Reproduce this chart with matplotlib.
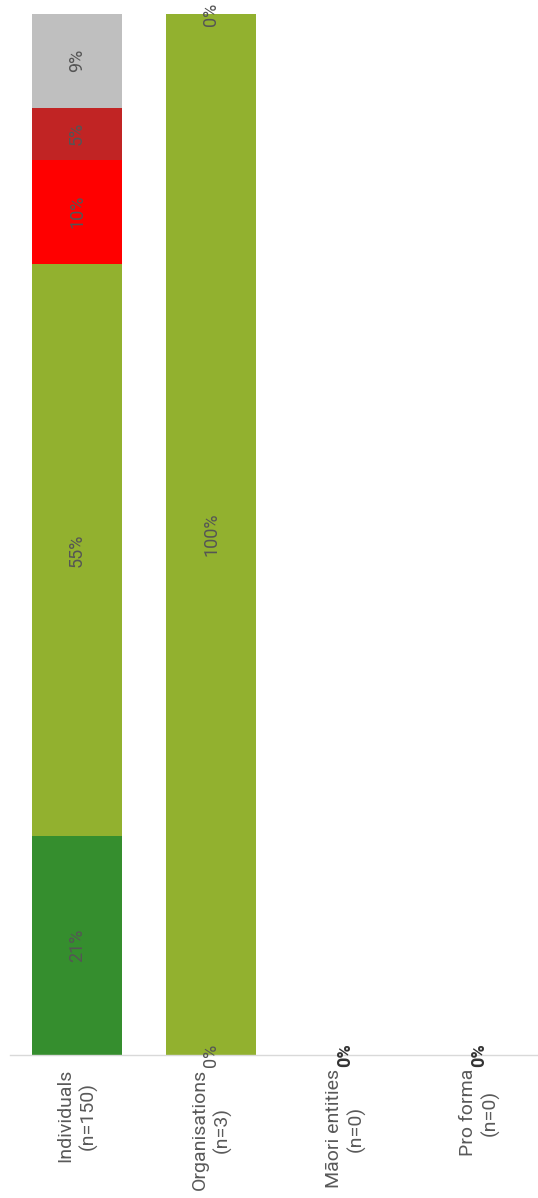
import matplotlib.pyplot as plt

# categories and stacked series (percent)
categories = ['Individuals\n(n=150)', 'Organisations\n(n=3)', 'Māori entities\n(n=0)', 'Pro forma\n(n=0)']
dark_green = [21, 0, 0, 0]
light_green = [55, 100, 0, 0]
red = [10, 0, 0, 0]
dark_red = [5, 0, 0, 0]
grey = [9, 0, 0, 0]
totals = [150, 3, 0, 0]

series = [dark_green, light_green, red, dark_red, grey]
colors = ['#358E2E', '#92B12F', '#FF0000', '#C12424', '#BFBFBF']

plt.rcParams['font.family'] = ['Roboto', 'DejaVu Sans']

fig = plt.figure(figsize=(5.38, 11.98), dpi=100)
ax = fig.add_axes([10 / 538, 143 / 1198, 528 / 538, 1041 / 1198])

x = list(range(len(categories)))
bottom = [0] * len(categories)
for i, (vals, col) in enumerate(zip(series, colors)):
    ax.bar(x, vals, width=0.67, bottom=bottom, color=col, linewidth=0, zorder=2)
    for j in range(len(categories)):
        if totals[j] == 0:
            continue
        # zero segments only labelled at the first and last series
        if vals[j] == 0 and i not in (0, len(series) - 1):
            continue
        ax.text(x[j], bottom[j] + vals[j] / 2, f'{vals[j]}%', rotation=90, ha='center', va='center',
                fontsize=13, color='#555555', fontweight='normal', clip_on=False, zorder=3)
    bottom = [b + v for b, v in zip(bottom, vals)]

# total labels for empty groups
for j in range(len(categories)):
    if totals[j] == 0:
        ax.text(x[j], 0, '0%', rotation=90, ha='center', va='center', fontsize=13,
                color='#333333', fontweight='bold', clip_on=False, zorder=3)

ax.set_xlim(-0.5, 3.44)
ax.set_ylim(0, 100)
ax.set_xticks(x)
ax.set_xticklabels(categories, rotation=90, ha='center', va='top', fontsize=14,
                   color='#595959', fontweight='normal', linespacing=1.25)
ax.tick_params(axis='x', length=0, pad=10)
ax.set_yticks([])
for side in ['left', 'right', 'top']:
    ax.spines[side].set_visible(False)
ax.spines['bottom'].set_color('#D9D9D9')
ax.spines['bottom'].set_linewidth(1)

fig.savefig('out.png', dpi=100)
